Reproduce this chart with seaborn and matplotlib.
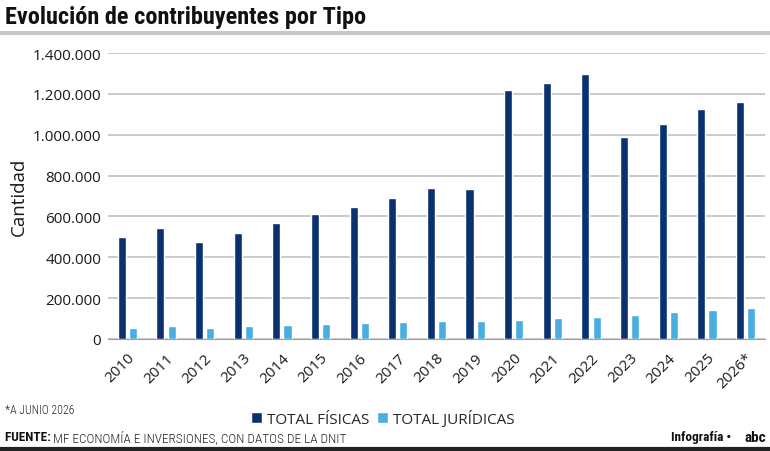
import seaborn as sns
import matplotlib.pyplot as plt
import pandas as pd
from matplotlib.ticker import FuncFormatter

years = ['2010', '2011', '2012', '2013', '2014', '2015', '2016', '2017', '2018',
         '2019', '2020', '2021', '2022', '2023', '2024', '2025', '2026*']
fisicas = [500000, 543000, 474000, 518000, 566000, 611000, 647000, 690000, 738000,
           733000, 1219000, 1253000, 1297000, 988000, 1051000, 1125000, 1162000]
juridicas = [56000, 63000, 56000, 65000, 70000, 74000, 77000, 81000, 86000,
             90000, 95000, 102000, 110000, 118000, 130000, 143000, 151000]
series = ['TOTAL FÍSICAS', 'TOTAL JURÍDICAS']
colors = ['#0b3170', '#4baee2']

df = pd.DataFrame({
    'Año': years * 2,
    'Cantidad': fisicas + juridicas,
    'Tipo': [series[0]] * len(years) + [series[1]] * len(years),
})

sns.set_style('white')
plt.rcParams['font.family'] = ['Open Sans', 'DejaVu Sans']
narrow = ['Roboto Condensed', 'DejaVu Sans']

fig = plt.figure(figsize=(7.7, 4.52), dpi=100)
ax = fig.add_axes([0.1403, 0.2478, 0.853, 0.6327])

sns.barplot(data=df, x='Año', y='Cantidad', hue='Tipo', palette=colors,
            saturation=1, width=0.58, gap=0.28, ax=ax, legend=True, zorder=3)

ax.set_ylim(0, 1400000)
ax.set_yticks(range(0, 1400001, 200000))
ax.yaxis.set_major_formatter(FuncFormatter(lambda v, p: f'{int(v):,}'.replace(',', '.')))
ax.grid(axis='y', color='#c6c6c6', linewidth=1.3, zorder=0)
ax.set_axisbelow(True)
for s in ['top', 'right', 'left']:
    ax.spines[s].set_visible(False)
ax.spines['bottom'].set_color('#a0a0a0')
ax.tick_params(axis='both', length=0, labelsize=11, colors='#1a1a1a')
ax.tick_params(axis='y', pad=5)
ax.tick_params(axis='x', pad=8)
plt.setp(ax.get_xticklabels(), rotation=45, ha='right', rotation_mode='anchor')
ax.set_xlabel('')
ax.set_ylabel('Cantidad', fontsize=13.5, color='#1a1a1a', labelpad=3)

ax.legend_.remove()
handles, labels = ax.get_legend_handles_labels()
fig.legend(handles, labels, loc='center', bbox_to_anchor=(0.497, 0.073), ncol=2,
           frameon=False, fontsize=11, handlelength=0.75, handleheight=0.75,
           handletextpad=0.3, columnspacing=0.5)

# title and framing
fig.text(0.007, 0.962, 'Evolución de contribuyentes por Tipo', fontsize=17.5,
         fontweight='bold', family=narrow, va='center', ha='left', color='#111111')
fig.add_artist(plt.Line2D([0, 1], [0.925, 0.925], color='#c8c8c8', linewidth=3,
                          transform=fig.transFigure))
fig.add_artist(plt.Line2D([0, 1], [0.004, 0.004], color='#222222', linewidth=3,
                          transform=fig.transFigure))

fig.text(0.006, 0.091, '*A JUNIO 2026', fontsize=8.5, family=narrow, fontweight='light',
         va='center', color='#222222')
fuente = fig.text(0.006, 0.031, 'FUENTE: ', fontsize=9.5, family=narrow, fontweight='bold',
                  va='center', color='#111111')
fig.canvas.draw()
bb = fuente.get_window_extent().transformed(fig.transFigure.inverted())
fig.text(bb.x1, 0.031, 'MF ECONOMÍA E INVERSIONES, CON DATOS DE LA DNIT', fontsize=9.5,
         family=narrow, fontweight='light', va='center', color='#222222')
fig.text(0.950, 0.031, 'Infografía •', fontsize=9.5, family=narrow, fontweight='bold',
         va='center', ha='right', color='#111111')
fig.text(0.995, 0.031, 'abc', fontsize=11, family=narrow, fontweight='bold',
         va='center', ha='right', color='#111111')

fig.savefig('out.png', dpi=100)
